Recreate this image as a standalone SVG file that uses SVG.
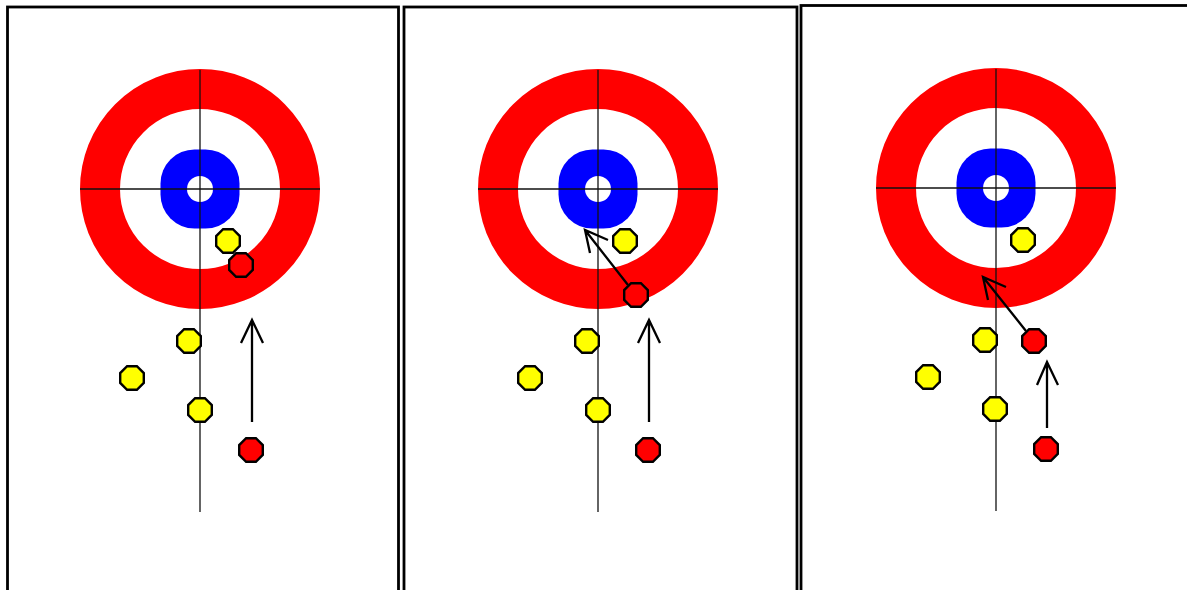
<svg xmlns="http://www.w3.org/2000/svg" xmlns:xlink="http://www.w3.org/1999/xlink" width="1187" height="590" viewBox="0 0 1187 590">
<style>
.panel{fill:#fff;stroke:#000;stroke-width:2.8}
.ring{fill:#fff;stroke:#ff0000;stroke-width:40}
.button{fill:#0000ff}
.hole{fill:#fff}
.axis{stroke:#111;stroke-width:1.3;fill:none}
.yel{fill:#ffff00;stroke:#000;stroke-width:2.4}
.red{fill:#ff0000;stroke:#000;stroke-width:2.4}
.arrow{stroke:#000;stroke-width:2.3;fill:none;stroke-linecap:butt;stroke-linejoin:miter}
</style>
<defs>
<polygon id="oct" points="11.8,4.9 4.9,11.8 -4.9,11.8 -11.8,4.9 -11.8,-4.9 -4.9,-11.8 4.9,-11.8 11.8,-4.9"/>
<g id="house">
<circle class="ring" cx="0" cy="0" r="100"/>
<rect class="button" x="-39.5" y="-39.5" width="79" height="79" rx="34"/>
<circle class="hole" cx="0" cy="0" r="13"/>
<line class="axis" x1="0" y1="-119" x2="0" y2="323"/>
<line class="axis" x1="-120" y1="0" x2="120" y2="0"/>
</g>
</defs>
<rect width="1187" height="590" fill="#fff"/>
<g id="panel1">
<rect class="panel" x="7.5" y="7" width="391" height="600"/>
<use xlink:href="#house" x="200" y="189"/>
<use xlink:href="#oct" class="yel" x="228" y="241"/>
<use xlink:href="#oct" class="red" x="241" y="265"/>
<use xlink:href="#oct" class="yel" x="189" y="341"/>
<use xlink:href="#oct" class="yel" x="132" y="378"/>
<use xlink:href="#oct" class="yel" x="200" y="410"/>
<use xlink:href="#oct" class="red" x="251" y="450"/>
</g>
<g id="panel2">
<rect class="panel" x="404" y="7" width="393" height="600"/>
<use xlink:href="#house" x="598" y="189"/>
<use xlink:href="#oct" class="yel" x="625" y="241"/>
<use xlink:href="#oct" class="yel" x="587" y="341"/>
<use xlink:href="#oct" class="yel" x="530" y="378"/>
<use xlink:href="#oct" class="yel" x="598" y="410"/>
<use xlink:href="#oct" class="red" x="648" y="450"/>
<use xlink:href="#oct" class="red" x="636" y="295"/>
</g>
<g id="panel3">
<rect class="panel" x="801" y="5.5" width="400" height="600"/>
<use xlink:href="#house" x="996" y="188"/>
<use xlink:href="#oct" class="yel" x="1023" y="240"/>
<use xlink:href="#oct" class="yel" x="985" y="340"/>
<use xlink:href="#oct" class="yel" x="928" y="377"/>
<use xlink:href="#oct" class="yel" x="995" y="409"/>
<use xlink:href="#oct" class="red" x="1034" y="341"/>
<use xlink:href="#oct" class="red" x="1046" y="449"/>
</g>
<g id="connectors">
<path class="arrow" d="M252,422 V320 M241,343 L252,320 L263,343"/>
<path class="arrow" d="M649,422 V320 M638,343 L649,320 L660,343"/>
<path class="arrow" d="M628,285 L585,230 M590,253 L585,230 L608,240"/>
<path class="arrow" d="M1026,331 L983,277 M988,300 L983,277 L1006,287"/>
<path class="arrow" d="M1047,428 V362 M1037,385 L1047,362 L1058,385"/>
</g>
</svg>
